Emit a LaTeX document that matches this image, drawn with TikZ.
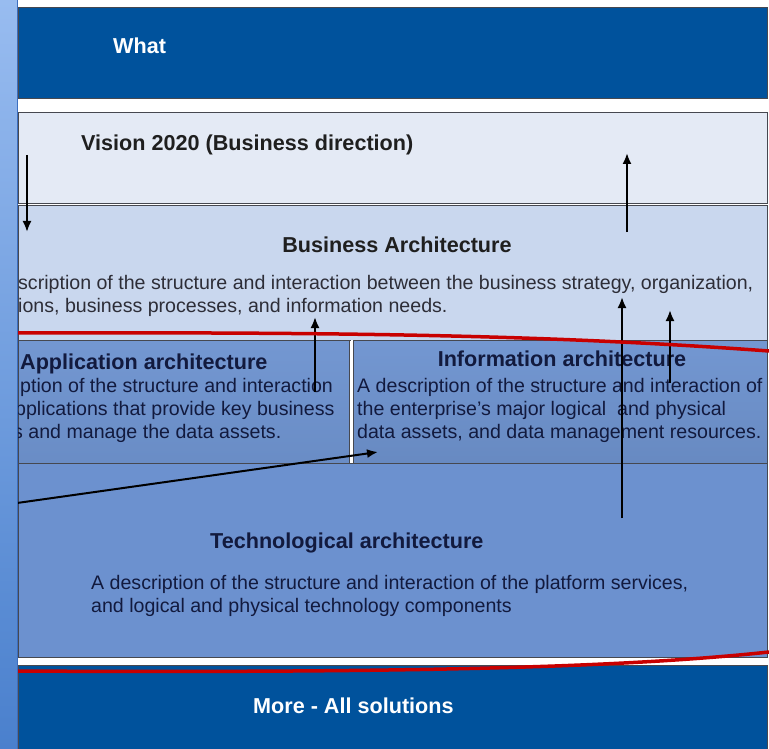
\documentclass[tikz,border=0pt]{standalone}
\usepackage{fontspec}
\setmainfont{Liberation Sans}
\usetikzlibrary{arrows.meta}

\definecolor{navyband}{RGB}{0,82,156}
\definecolor{edgegrey}{RGB}{70,72,80}
\definecolor{visionfill}{RGB}{228,234,245}
\definecolor{busfill}{RGB}{201,215,238}
\definecolor{midblue}{RGB}{111,148,208}
\definecolor{techblue}{RGB}{108,145,207}
\definecolor{deeptext}{RGB}{18,26,62}
\definecolor{greytext}{RGB}{45,45,55}
\definecolor{redline}{RGB}{200,0,0}
\definecolor{striptop}{RGB}{152,188,240}
\definecolor{stripbottom}{RGB}{74,128,205}
\definecolor{stripedge}{RGB}{60,110,190}

\tikzset{
    band/.style={draw=edgegrey, line width=1pt, anchor=north west, inner sep=0pt},
    title/.style={font=\fontsize{21.6}{25}\selectfont\bfseries, inner sep=0pt, anchor=base west},
    desc/.style={font=\fontsize{19.6}{23}\selectfont, inner sep=0pt, anchor=base west, align=left},
    flow/.style={line width=2pt, -{Latex[length=11pt,width=9pt]}},
}

\begin{document}
\begin{tikzpicture}[x=1pt, y=-1pt]
    \useasboundingbox (0,0) rectangle (769,749);
    \fill[white] (0,0) rectangle (769,749);

    % bands
    \node[band, fill=navyband, minimum width=749pt, minimum height=91pt] (whatband) at (18,7) {};
    \node[band, fill=visionfill, minimum width=749pt, minimum height=91pt] (vis) at (18,112) {};
    \node[band, fill=busfill, minimum width=749pt, minimum height=135pt] (bus) at (18,205) {};
    \node[band, top color=midblue!97!white, bottom color=midblue!95!black, minimum width=331pt, minimum height=123pt] (app) at (18,340) {};
    \node[band, top color=midblue!97!white, bottom color=midblue!93!black, minimum width=414pt, minimum height=123pt] (inf) at (353,340) {};
    \draw[white, line width=2pt] (app.north east) ++(1.5,0) -- ++(0,123);
    \node[band, fill=techblue, minimum width=749pt, minimum height=194pt] (tec) at (18,463) {};
    \node[band, fill=navyband, minimum width=749pt, minimum height=84pt] (moreband) at (18,665) {};

    % texts (multi-line nodes sit on the baseline of their last line)
    \node[title, white] (whattxt) at (113,54) {What};
    \node[title, text=black!88] (vistxt) at (81,151) {Vision 2020 (Business direction)};
    \node[title, text=black!88, anchor=base] (bustitle) at (397,252) {Business Architecture};
    \node[desc, text=greytext] (bustxt) at (18,312) {scription of the structure and interaction between the business strategy, organization,\\
        ions, business processes, and information needs.};
    \node[title, text=deeptext] (apptitle) at (20,369) {Application architecture};
    \node[desc, text=deeptext] (apptxt) at (20,438) {ption of the structure and interaction\\
        \hspace{-5pt}pplications that provide key business\\
        \hspace{-7pt}s and manage the data assets.};
    \node[title, text=deeptext, anchor=base] (inftitle) at (562,366) {Information architecture};
    \node[desc, text=deeptext] (inftxt) at (357,438) {A description of the structure and interaction of\\
        the enterprise's major logical\ \ and physical\\
        data assets, and data management resources.};
    \node[title, text=deeptext] (tectitle) at (210,548) {Technological architecture};
    \node[desc, text=deeptext] (tectxt) at (91,612) {A description of the structure and interaction of the platform services,\\
        and logical and physical technology components};
    \node[title, white] (moretxt) at (253,713) {More - All solutions};

    % arrows between the layers
    \coordinate (d1) at (27,155);
    \coordinate (d2) at (27,232);
    \coordinate (u1) at (627,232);
    \coordinate (u2) at (627,153);
    \coordinate (u3) at (315,392);
    \coordinate (u4) at (315,317);
    \coordinate (u5) at (622,518);
    \coordinate (u6) at (622,297);
    \coordinate (u7) at (670,383);
    \coordinate (u8) at (670,310);
    \coordinate (s1) at (10,504);
    \coordinate (s2) at (378,452);
    \draw[flow] (d1) -- (d2);
    \draw[flow] (u1) -- (u2);
    \draw[flow] (u3) -- (u4);
    \draw[flow] (u5) -- (u6);
    \draw[flow] (u7) -- (u8);
    \draw[flow] (s1) -- (s2);

    % red marks
    \draw[redline, line width=3.5pt] (10,333) .. controls (350,332) and (550,335) .. (769,351);
    \draw[redline, line width=3.5pt] (10,671) .. controls (400,673) and (620,668) .. (769,652);

    % left strip
    \shade[top color=striptop, bottom color=stripbottom] (0,0) rectangle (17,749);
    \draw[stripedge, line width=1pt] (17,0) -- (17,749);
\end{tikzpicture}
\end{document}
